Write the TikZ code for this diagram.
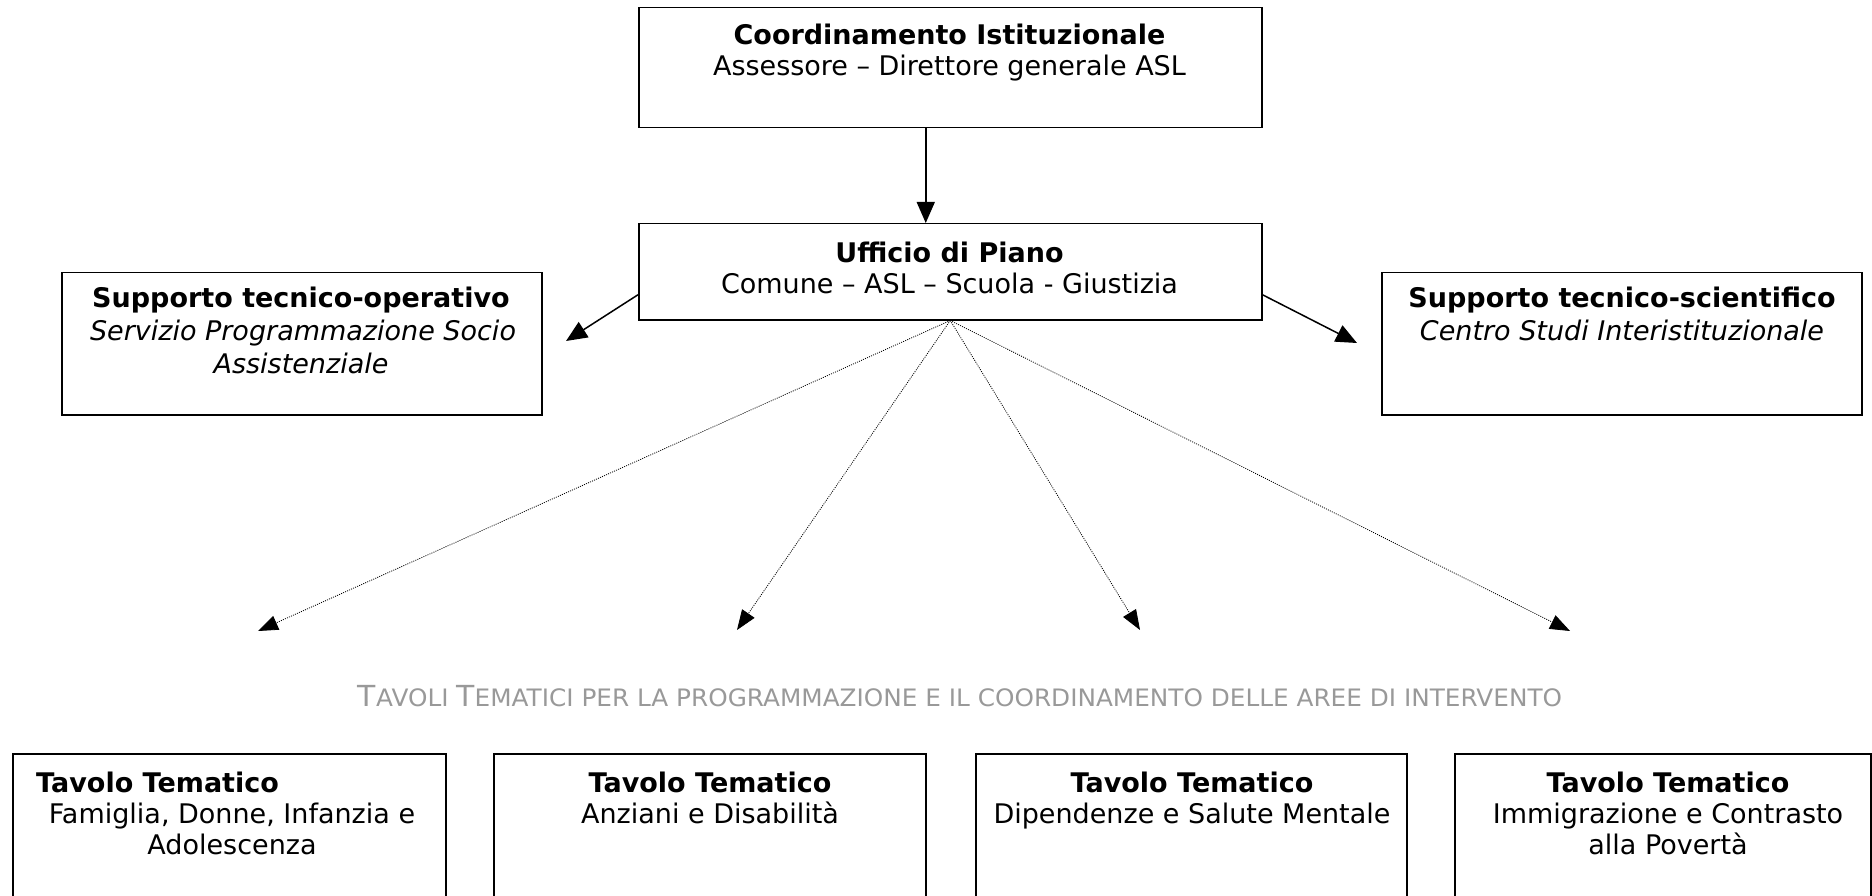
\documentclass[tikz,border=0pt]{standalone}
\usepackage{fontspec}
\setmainfont{DejaVu Sans}
\usepackage{graphicx}
\usetikzlibrary{arrows.meta}
\definecolor{titlegray}{HTML}{999999}
\newcommand\scbig[1]{{\fontsize{29}{33}\selectfont #1}}
\newcommand\scsmall[1]{{\fontsize{24}{28}\selectfont #1}}
\begin{document}
\begin{tikzpicture}[x=1pt,y=-1pt,
  box/.style={draw, line width=1.5pt, inner sep=0pt, anchor=north west},
  txt/.style={inner sep=0pt, anchor=base, font=\fontsize{27}{31}\selectfont},
  solidarrow/.style={line width=1.5pt, -{Triangle[length=21pt,width=18pt]}},
  dotarrow/.style={line width=0.8pt, dash pattern=on 1pt off 1.2pt, -{Triangle[length=20pt,width=15pt]}}
]
\clip (0,0) rectangle (1872,896);
% boxes
\node[box, minimum width=623pt, minimum height=120pt] (coord) at (638,7) {};
\node[box, minimum width=623pt, minimum height=96pt] (uff) at (638,223) {};
\node[box, minimum width=480pt, minimum height=142pt] (supop) at (61,272) {};
\node[box, minimum width=480pt, minimum height=142pt] (supsc) at (1381,272) {};
\node[box, minimum width=433pt, minimum height=170pt] (tav1) at (12,753) {};
\node[box, minimum width=432pt, minimum height=170pt] (tav2) at (493,753) {};
\node[box, minimum width=431pt, minimum height=170pt] (tav3) at (975,753) {};
\node[box, minimum width=416pt, minimum height=170pt] (tav4) at (1454,753) {};
% texts
\node[txt] (coordA) at (949.5,45) {\bfseries Coordinamento Istituzionale};
\node[txt] (coordB) at (949.5,76) {Assessore – Direttore generale ASL};
\node[txt] (uffA) at (949.5,262) {\bfseries Ufficio di Piano};
\node[txt] (uffB) at (949.5,293) {Comune – ASL – Scuola - Giustizia};
\node[txt] (supopA) at (301,307) {\bfseries Supporto tecnico-operativo};
\node[txt] (supopB) at (303,340) {\itshape Servizio Programmazione Socio};
\node[txt] (supopC) at (301,373) {\itshape Assistenziale};
\node[txt] (supscA) at (1622,307) {\bfseries Supporto tecnico-scientifico};
\node[txt] (supscB) at (1622,340) {\itshape Centro Studi Interistituzionale};
\node[txt, anchor=base west] (tav1A) at (36,792) {\bfseries Tavolo Tematico};
\node[txt] (tav1B) at (232,823) {Famiglia, Donne, Infanzia e};
\node[txt] (tav1C) at (232,854) {Adolescenza};
\node[txt] (tav2A) at (710,792) {\bfseries Tavolo Tematico};
\node[txt] (tav2B) at (710,823) {Anziani e Disabilità};
\node[txt] (tav3A) at (1192,792) {\bfseries Tavolo Tematico};
\node[txt] (tav3B) at (1192,823) {Dipendenze e Salute Mentale};
\node[txt] (tav4A) at (1668,792) {\bfseries Tavolo Tematico};
\node[txt] (tav4B) at (1668,823) {Immigrazione e Contrasto};
\node[txt] (tav4C) at (1668,854) {alla Povertà};
\node[inner sep=0pt, anchor=base, text=titlegray] (title) at (960,706)
  {\resizebox{1204pt}{\height}{\scbig{T}\scsmall{AVOLI }\scbig{T}\scsmall{EMATICI PER LA PROGRAMMAZIONE E IL COORDINAMENTO DELLE AREE DI INTERVENTO}}};
% arrow end points
\coordinate (lt) at (566,341);
\coordinate (rt) at (1357,343);
\coordinate (d1) at (258,631);
\coordinate (d2) at (737,630);
\coordinate (d3) at (1140,630);
\coordinate (d4) at (1570,631);
% connectors
\draw[solidarrow] ([xshift=-24.5pt]coord.south) -- ([xshift=-24.5pt]uff.north);
\draw[solidarrow] ([yshift=-23pt]uff.west) -- (lt);
\draw[solidarrow] ([yshift=-23pt]uff.east) -- (rt);
\foreach \t in {d1,d2,d3,d4} \draw[dotarrow] (uff.south) -- (\t);
\end{tikzpicture}
\end{document}
